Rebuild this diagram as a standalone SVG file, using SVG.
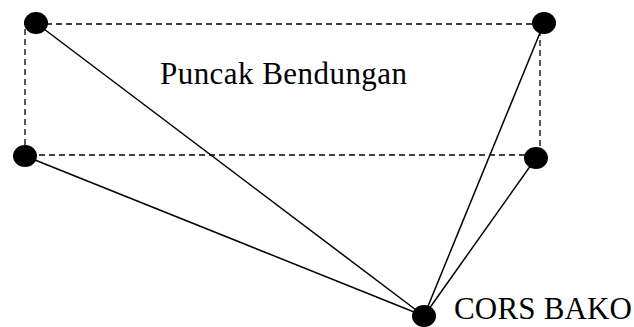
<svg xmlns="http://www.w3.org/2000/svg" width="634" height="327" viewBox="0 0 634 327">
<style>
.d{fill:none;stroke:#000;stroke-width:1.3;stroke-dasharray:6,4}
.l{stroke:#000;stroke-width:1.5}
.n{fill:#000}
.t{font-family:"Liberation Serif",serif;font-size:31px;fill:#000}
</style>
<rect width="634" height="327" fill="#fff"/>
<g id="connectors">
<path class="d" d="M36 24H540V155H25V24"/>
<line class="l" x1="36" y1="23" x2="424" y2="316"/>
<line class="l" x1="25" y1="156" x2="424" y2="316"/>
<line class="l" x1="544" y1="23" x2="424" y2="316"/>
<line class="l" x1="536" y1="158" x2="424" y2="316"/>
</g>
<g id="n1"><ellipse class="n" cx="36" cy="23" rx="12" ry="11"/></g>
<g id="n2"><ellipse class="n" cx="544" cy="23" rx="12" ry="11"/></g>
<g id="n3"><ellipse class="n" cx="25" cy="156" rx="12" ry="11"/></g>
<g id="n4"><ellipse class="n" cx="536" cy="158" rx="12" ry="11"/></g>
<g id="n5"><ellipse class="n" cx="424" cy="316" rx="12" ry="11"/><text class="t" x="454" y="319" textLength="178">CORS BAKO</text></g>
<text class="t" x="160" y="84" textLength="247">Puncak Bendungan</text>
</svg>
